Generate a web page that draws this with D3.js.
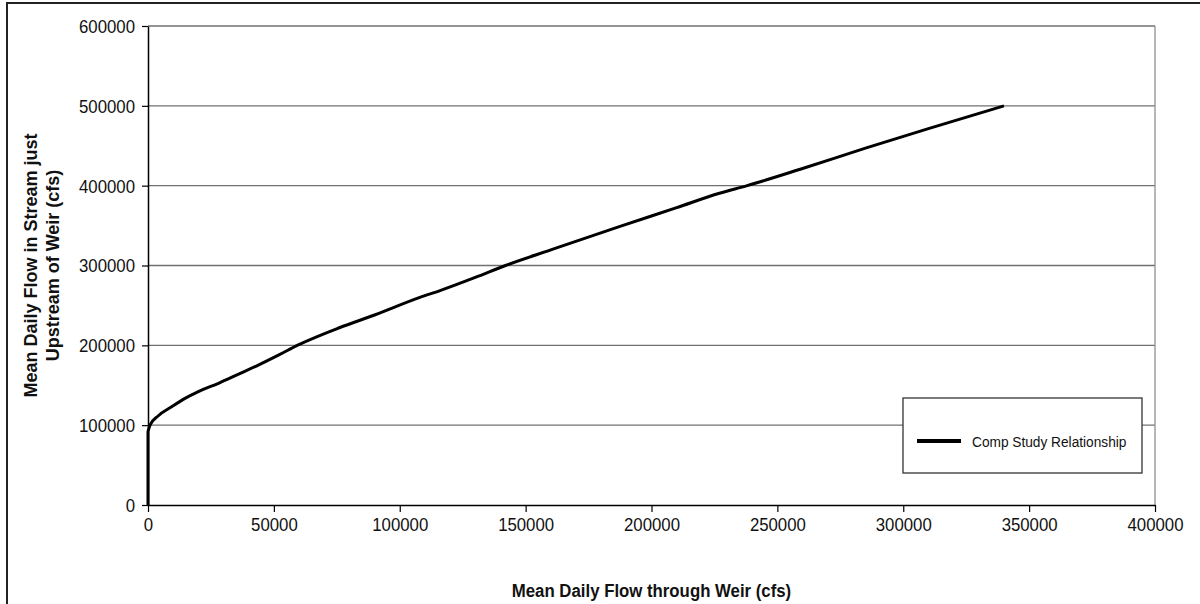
<!DOCTYPE html>
<html>
<head>
<meta charset="utf-8">
<script src="https://cdn.jsdelivr.net/npm/d3@7"></script>
<style>
  html, body { margin: 0; padding: 0; background: #fff; }
  svg { display: block; font-family: "Liberation Sans", Arial, sans-serif; }
</style>
</head>
<body>
<svg id="chart" width="1200" height="604"></svg>
<script>
// Data
const flowThroughWeir = [0, 0, 800, 4000, 9400, 14700, 20000, 28000, 36000, 44000, 52000, 59700, 76000, 90000, 108000, 116000, 130000, 142000, 160000, 187500, 210000, 227000, 238000, 260000, 285000, 310000, 340000];
const flowUpstream   = [0, 92000, 100000, 111500, 123000, 133500, 142000, 152500, 164000, 175500, 188000, 200500, 222000, 238000, 260000, 268500, 285000, 300000, 319500, 349000, 372500, 390500, 400000, 421500, 447000, 471500, 500000];
const xTicks = [0, 50000, 100000, 150000, 200000, 250000, 300000, 350000, 400000];
const yTicks = [0, 100000, 200000, 300000, 400000, 500000, 600000];
const seriesName = "Comp Study Relationship";
const xTitle = "Mean Daily Flow through Weir (cfs)";
const yTitleLines = ["Mean Daily Flow in Stream just", "Upstream of Weir (cfs)"];

const points = flowThroughWeir.map((x, i) => ({x, y: flowUpstream[i]}));

const svg = d3.select("#chart");
const L = 148, R = 1155, T = 26, B = 505;

const x = d3.scaleLinear().domain([0, 400000]).range([L, R]);
const y = d3.scaleLinear().domain([0, 600000]).range([B, T]);

// squeeze text horizontally: keep width of base size, use taller glyphs
function condense(sel, baseSize, tallSize, factor) {
  sel.each(function () {
    const t = d3.select(this);
    t.attr("font-size", baseSize);
    const w = this.getComputedTextLength() * (factor || 1);
    t.attr("font-size", tallSize).attr("textLength", w).attr("lengthAdjust", "spacingAndGlyphs");
  });
}

// outer frame
svg.append("rect").attr("x", 7).attr("y", 3).attr("width", 1200).attr("height", 620)
  .attr("fill", "#fff").attr("stroke", "#222").attr("stroke-width", 2);

// gridlines
svg.append("g").selectAll("line").data(yTicks.filter(d => d > 0)).join("line")
  .attr("x1", L).attr("x2", R).attr("y1", d => y(d)).attr("y2", d => y(d))
  .attr("stroke", "#707070").attr("stroke-width", 1.3);
// right border
svg.append("line").attr("x1", R).attr("x2", R).attr("y1", T).attr("y2", B)
  .attr("stroke", "#909090").attr("stroke-width", 1.3);

// axes
const xAxis = svg.append("g").attr("transform", `translate(0,${B})`)
  .call(d3.axisBottom(x).tickValues(xTicks).tickFormat(d3.format("d")).tickSizeInner(7).tickSizeOuter(0).tickPadding(6));
const yAxis = svg.append("g").attr("transform", `translate(${L},0)`)
  .call(d3.axisLeft(y).tickValues(yTicks).tickFormat(d3.format("d")).tickSizeInner(6).tickSizeOuter(0).tickPadding(7));
[xAxis, yAxis].forEach(a => {
  a.select(".domain").attr("stroke", "#000").attr("stroke-width", 1.5);
  a.selectAll(".tick line").attr("stroke", "#000").attr("stroke-width", 1.2);
  a.selectAll(".tick text").attr("fill", "#111")
    .attr("font-family", "'Liberation Sans', Arial, sans-serif");
  condense(a.selectAll(".tick text"), 16.8, 18.5);
});
xAxis.selectAll(".tick text").attr("dy", "0.71em");
yAxis.selectAll(".tick text").attr("dy", "0.35em");

// curve: vertical rise at zero flow, then a smooth line
const line = d3.line().x(d => x(d.x)).y(d => y(d.y)).curve(d3.curveMonotoneX);
const rise = d3.line().x(d => x(d.x)).y(d => y(d.y))(points.slice(0, 2));
svg.append("path").attr("d", rise + line(points.slice(1)).replace(/^M/, "L"))
  .attr("fill", "none").attr("stroke", "#000").attr("stroke-width", 3).attr("stroke-linejoin", "round");

// legend
const lg = svg.append("g");
lg.append("rect").attr("x", 903).attr("y", 398).attr("width", 239).attr("height", 75)
  .attr("fill", "#fff").attr("stroke", "#333").attr("stroke-width", 1.3);
lg.append("line").attr("x1", 917).attr("x2", 961).attr("y1", 441).attr("y2", 441)
  .attr("stroke", "#000").attr("stroke-width", 4);
const lt = lg.append("text").attr("x", 972).attr("y", 447).attr("fill", "#111").text(seriesName);
condense(lt, 13.7, 15.5);

// axis titles
const xt = svg.append("text").attr("x", (L + R) / 2).attr("y", 597).attr("text-anchor", "middle")
  .attr("font-weight", "bold").attr("fill", "#111").text(xTitle);
condense(xt, 16.8, 17.5);
const yt = svg.append("text").attr("transform", `translate(37,${(T + B) / 2}) rotate(-90)`)
  .attr("text-anchor", "middle").attr("font-size", 18).attr("font-weight", "bold").attr("fill", "#111");
yTitleLines.forEach((t, i) => yt.append("tspan").attr("x", 0).attr("dy", i === 0 ? 0 : 21.5).text(t));
</script>
</body>
</html>
